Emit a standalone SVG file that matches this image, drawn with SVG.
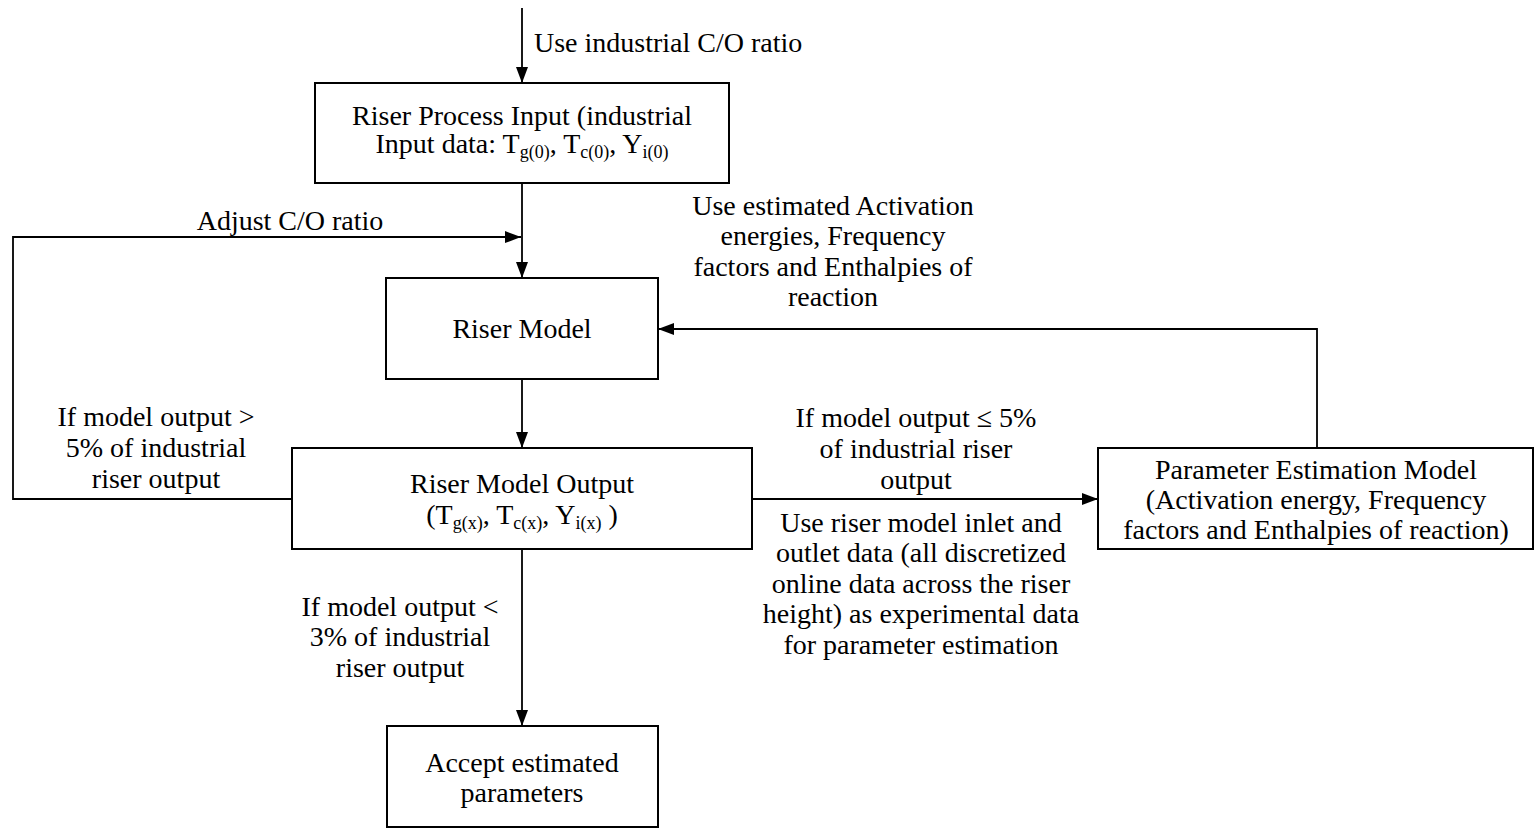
<svg xmlns="http://www.w3.org/2000/svg" width="1538" height="829" viewBox="0 0 1538 829">
<style>
.box{fill:#fff;stroke:#000;stroke-width:2}
.ln{fill:none;stroke:#000;stroke-width:1.8}
text{font-family:"Liberation Serif","Times New Roman",serif;font-size:28px;fill:#000}
.c{text-anchor:middle}
.sub{font-size:18px}
</style>
<defs>
<marker id="ah" viewBox="0 0 16 12" refX="16" refY="6" markerWidth="16" markerHeight="12" markerUnits="userSpaceOnUse" orient="auto">
<path d="M0,0 L16,6 L0,12 z" fill="#000"/>
</marker>
</defs>
<rect width="1538" height="829" fill="#fff"/>
<g id="connectors">
<line class="ln" x1="522" y1="8" x2="522" y2="83" marker-end="url(#ah)"/>
<line class="ln" x1="522" y1="183" x2="522" y2="278" marker-end="url(#ah)"/>
<polyline class="ln" points="292,499 13,499 13,237 521,237" marker-end="url(#ah)"/>
<line class="ln" x1="522" y1="379" x2="522" y2="448" marker-end="url(#ah)"/>
<line class="ln" x1="752" y1="499" x2="1098" y2="499" marker-end="url(#ah)"/>
<polyline class="ln" points="1317,448 1317,329 658,329" marker-end="url(#ah)"/>
<line class="ln" x1="522" y1="549" x2="522" y2="726" marker-end="url(#ah)"/>
<text x="534" y="52">Use industrial C/O ratio</text>
<text class="c" x="290" y="230">Adjust C/O ratio</text>
<text class="c" x="833"><tspan x="833" y="215">Use estimated Activation</tspan><tspan x="833" y="245">energies, Frequency</tspan><tspan x="833" y="276">factors and Enthalpies of</tspan><tspan x="833" y="306">reaction</tspan></text>
<text class="c" x="156"><tspan x="156" y="426">If model output &gt;</tspan><tspan x="156" y="457">5% of industrial</tspan><tspan x="156" y="488">riser output</tspan></text>
<text class="c" x="916"><tspan x="916" y="427">If model output ≤ 5%</tspan><tspan x="916" y="458">of industrial riser</tspan><tspan x="916" y="489">output</tspan></text>
<text class="c" x="921"><tspan x="921" y="532">Use riser model inlet and</tspan><tspan x="921" y="562">outlet data (all discretized</tspan><tspan x="921" y="593">online data across the riser</tspan><tspan x="921" y="623">height) as experimental data</tspan><tspan x="921" y="654">for parameter estimation</tspan></text>
<text class="c" x="400"><tspan x="400" y="616">If model output &lt;</tspan><tspan x="400" y="646">3% of industrial</tspan><tspan x="400" y="677">riser output</tspan></text>
</g>
<g id="riser-process-input">
<rect class="box" x="315" y="83" width="414" height="100"/>
<text class="c" x="522" y="125">Riser Process Input (industrial</text>
<text class="c" x="522" y="153">Input data: T<tspan class="sub" dy="5">g(0)</tspan><tspan dy="-5">, T</tspan><tspan class="sub" dy="5">c(0)</tspan><tspan dy="-5">, Y</tspan><tspan class="sub" dy="5">i(0)</tspan></text>
</g>
<g id="riser-model">
<rect class="box" x="386" y="278" width="272" height="101"/>
<text class="c" x="522" y="338">Riser Model</text>
</g>
<g id="riser-model-output">
<rect class="box" x="292" y="448" width="460" height="101"/>
<text class="c" x="522" y="493">Riser Model Output</text>
<text class="c" x="522" y="524">(T<tspan class="sub" dy="5">g(x)</tspan><tspan dy="-5">, T</tspan><tspan class="sub" dy="5">c(x)</tspan><tspan dy="-5">, Y</tspan><tspan class="sub" dy="5">i(x)</tspan><tspan dy="-5"> )</tspan></text>
</g>
<g id="parameter-estimation-model">
<rect class="box" x="1098" y="448" width="435" height="101"/>
<text class="c" x="1316"><tspan x="1316" y="479">Parameter Estimation Model</tspan><tspan x="1316" y="509">(Activation energy, Frequency</tspan><tspan x="1316" y="539">factors and Enthalpies of reaction)</tspan></text>
</g>
<g id="accept-estimated-parameters">
<rect class="box" x="387" y="726" width="271" height="101"/>
<text class="c" x="522" y="772">Accept estimated</text>
<text class="c" x="522" y="802">parameters</text>
</g>
</svg>
